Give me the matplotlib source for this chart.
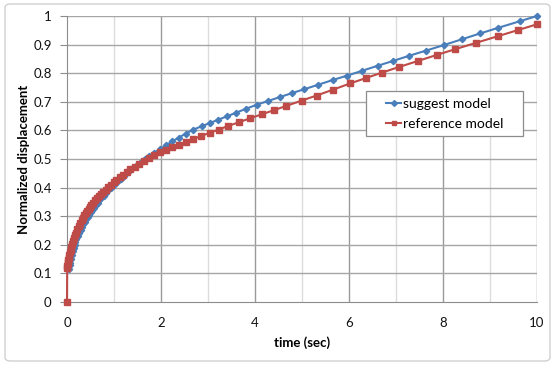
import matplotlib
matplotlib.use("Agg")
import matplotlib.pyplot as plt
from matplotlib.patches import FancyBboxPatch, Rectangle

# ---- data ----
suggest_t = [0.05, 0.06, 0.07, 0.085, 0.10, 0.12, 0.14, 0.16, 0.18, 0.20, 0.23, 0.26, 0.29,
             0.32, 0.35, 0.38, 0.41, 0.44, 0.47, 0.50, 0.54, 0.57, 0.61, 0.65, 0.69, 0.73,
             0.78, 0.83, 0.88, 0.94, 1.00, 1.07, 1.14, 1.21, 1.29, 1.37, 1.46, 1.55, 1.65,
             1.75, 1.86, 1.98, 2.10, 2.24, 2.38, 2.53, 2.69, 2.87, 3.04, 3.22, 3.40, 3.60,
             3.81, 4.04, 4.28, 4.53, 4.78, 5.05, 5.35, 5.67, 5.95, 6.27, 6.61, 6.94, 7.28,
             7.64, 8.03, 8.41, 8.79, 9.18, 9.64, 10.0]
suggest_y = [0.115, 0.128, 0.138, 0.152, 0.164, 0.179, 0.190, 0.2005, 0.210, 0.219, 0.231,
             0.2425, 0.253, 0.263, 0.272, 0.281, 0.2895, 0.298, 0.3055, 0.313, 0.3225, 0.329,
             0.338, 0.3466, 0.355, 0.3626, 0.372, 0.381, 0.390, 0.400, 0.410, 0.421, 0.4315,
             0.4417, 0.4528, 0.4635, 0.4752, 0.4865, 0.4984, 0.510, 0.522, 0.535, 0.5476,
             0.5615, 0.575, 0.589, 0.603, 0.6147, 0.6258, 0.6375, 0.649, 0.662, 0.6757, 0.690,
             0.703, 0.7165, 0.730, 0.744, 0.760, 0.777, 0.791, 0.808, 0.826, 0.843, 0.861,
             0.879, 0.899, 0.919, 0.939, 0.959, 0.982, 1.0]

reference_t = [0.0, 0.004, 0.008, 0.012, 0.018, 0.025, 0.035, 0.045, 0.06, 0.075, 0.09, 0.11,
               0.13, 0.15, 0.17, 0.19, 0.22, 0.25, 0.28, 0.31, 0.34, 0.37, 0.40, 0.43, 0.46,
               0.49, 0.52, 0.56, 0.60, 0.64, 0.68, 0.72, 0.77, 0.82, 0.87, 0.93, 0.99, 1.05,
               1.12, 1.19, 1.27, 1.35, 1.44, 1.53, 1.63, 1.74, 1.85, 1.97, 2.10, 2.24, 2.38,
               2.53, 2.69, 2.85, 3.04, 3.23, 3.42, 3.65, 3.89, 4.14, 4.41, 4.67, 4.99, 5.31,
               5.67, 6.02, 6.36, 6.70, 7.07, 7.47, 7.87, 8.26, 8.70, 9.16, 9.60, 10.0]
reference_y = [0.0, 0.120, 0.125, 0.132, 0.139, 0.146, 0.155, 0.163, 0.174, 0.183, 0.192,
               0.2027, 0.2142, 0.2246, 0.234, 0.2428, 0.2548, 0.2658, 0.276, 0.2853, 0.2942,
               0.3026, 0.3104, 0.318, 0.325, 0.332, 0.3385, 0.347, 0.355, 0.3625, 0.370, 0.377,
               0.385, 0.393, 0.401, 0.410, 0.4186, 0.4268, 0.436, 0.4448, 0.4545, 0.4637,
               0.4737, 0.4833, 0.4935, 0.5043, 0.5145, 0.5253, 0.532, 0.541, 0.550, 0.560,
               0.570, 0.580, 0.592, 0.603, 0.615, 0.628, 0.642, 0.656, 0.671, 0.686, 0.704,
               0.722, 0.743, 0.764, 0.783, 0.802, 0.822, 0.843, 0.864, 0.884, 0.906, 0.929,
               0.951, 0.971]

series_names = ["suggest model", "reference model"]
x_ticks = [0, 2, 4, 6, 8, 10]
y_ticks = [0, 0.1, 0.2, 0.3, 0.4, 0.5, 0.6, 0.7, 0.8, 0.9, 1]
y_tick_labels = ["0", "0.1", "0.2", "0.3", "0.4", "0.5", "0.6", "0.7", "0.8", "0.9", "1"]

# ---- figure ----
plt.rcParams['font.family'] = ['Lato', 'DejaVu Sans']
W, H = 554, 368
fig = plt.figure(figsize=(W / 100, H / 100), dpi=100)

# outer chart border
border = FancyBboxPatch((5 / W, 7 / H), 545 / W, 357 / H, boxstyle="round,pad=0,rounding_size=0.01",
                        transform=fig.transFigure, facecolor="none", edgecolor="#d0d0d0", lw=1.0,
                        zorder=10)
fig.patches.append(border)

ax = fig.add_axes([67 / W, 66 / H, 470 / W, 286 / H])
ax.set_xlim(0, 10)
ax.set_ylim(0, 1)
ax.patch.set_alpha(0)

# grid: minor vertical light, major vertical darker, horizontal medium
for xv in range(1, 11, 2):
    ax.axvline(xv, color="#dcdcdc", lw=1.0, zorder=0)
for xv in range(2, 11, 2):
    ax.axvline(xv, color="#9a9a9a", lw=1.0, zorder=0)
for yv in y_ticks[1:]:
    ax.axhline(yv, color="#a6a6a6", lw=1.0, zorder=0)

blue = "#4a7ebb"
red = "#be4b48"
ax.plot(suggest_t, suggest_y, color=blue, lw=1.5, marker="D", ms=3.2,
        markerfacecolor=blue, markeredgecolor=blue, label=series_names[0], zorder=3,
        clip_on=False)
ax.plot(reference_t, reference_y, color=red, lw=1.5, marker="s", ms=4.0,
        markerfacecolor=red, markeredgecolor=red, label=series_names[1], zorder=4,
        clip_on=False)

ax.set_xticks(x_ticks)
ax.set_xticklabels([str(v) for v in x_ticks])
ax.set_yticks(y_ticks)
ax.set_yticklabels(y_tick_labels)
ax.tick_params(axis="both", labelsize=9.5, length=5, width=0.8,
               direction="out", pad=6, color="#8c8c8c", labelcolor="#111111")
ax.tick_params(axis="x", length=0, pad=11)

for s in ["top", "right"]:
    ax.spines[s].set_visible(False)
ax.spines["left"].set_color("#8c8c8c")
ax.spines["bottom"].set_color("#8c8c8c")

ax.set_xlabel("time (sec)", fontsize=9.5, fontweight="bold", labelpad=5)
ax.set_ylabel("Normalized displacement", fontsize=9.5, fontweight="bold")
ax.yaxis.set_label_coords(-0.078, 0.5)

# legend frame drawn separately to match the wide padding of the reference
lx0, lx1, ly0, ly1 = 366, 523, 91, 136
frame = Rectangle((lx0 / W, 1 - ly1 / H), (lx1 - lx0) / W, (ly1 - ly0) / H,
                  transform=fig.transFigure, facecolor="white", edgecolor="#8c8c8c",
                  lw=0.9, zorder=5)
fig.patches.append(frame)
leg = fig.legend(loc="upper left", bbox_to_anchor=(386 / W, 1 - 98 / H),
                 frameon=False, fontsize=10, handlelength=1.1,
                 borderpad=0.0, labelspacing=0.55, handletextpad=0.1, borderaxespad=0)
leg.set_zorder(11)
for h in leg.legend_handles:
    h.set_linewidth(1.5)
    h.set_markersize(3)

fig.savefig("out.png", dpi=100)
